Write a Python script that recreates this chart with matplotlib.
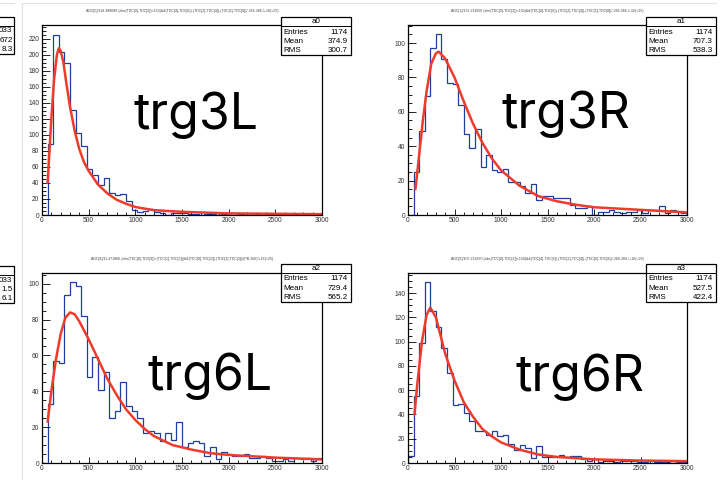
import numpy as np
import matplotlib
matplotlib.use("Agg")
import matplotlib.pyplot as plt
from matplotlib.patches import Rectangle
from matplotlib.ticker import MultipleLocator

W, H = 727, 480

# bin edges: 50 bins of width 60 between 0 and 3000
EDGES = np.linspace(0, 3000, 51)

# ---- histogram contents ----
trg3L = [0, 89, 225, 203, 190, 131, 102, 86, 57, 50,
         37, 46, 27, 25, 26, 17, 6, 4, 5, 7,
         4, 3, 0, 2, 3, 2, 1, 1, 0, 1,
         1, 0, 1, 0, 0, 1, 0, 0, 1, 0,
         0, 0, 1, 0, 0, 0, 0, 1, 0, 0]
trg3R = [0, 25, 49, 69, 97, 105, 91, 77, 76, 64,
         47, 39, 50, 28, 35, 26, 25, 27, 19, 19,
         17, 13, 18, 9, 11, 11, 10, 10, 10, 6,
         4, 4, 5, 0, 2, 2, 3, 2, 1, 2,
         2, 3, 1, 3, 3, 5, 1, 3, 2, 1]
trg6L = [0, 33, 57, 56, 94, 101, 99, 82, 48, 59,
         41, 51, 25, 29, 45, 32, 29, 25, 17, 18,
         17, 12, 17, 13, 23, 9, 11, 12, 11, 4,
         9, 2, 6, 5, 4, 4, 5, 3, 3, 4,
         3, 1, 1, 2, 1, 3, 2, 3, 1, 3]
trg6R = [6, 55, 99, 149, 125, 112, 95, 74, 48, 49,
         41, 35, 26, 26, 23, 26, 22, 23, 16, 11,
         15, 12, 4, 14, 5, 5, 5, 7, 5, 6,
         6, 3, 2, 3, 1, 2, 2, 1, 2, 2,
         2, 1, 1, 0, 1, 1, 1, 0, 1, 1]

# ---- red fit curves, sampled by eye ----
fit3L_x = [60, 80, 100, 130, 160, 180, 200, 230, 260, 300, 350, 400, 450, 500,
           600, 700, 800, 900, 1000, 1200, 1500, 2000, 2500, 3000]
fit3L_y = [40, 80, 120, 170, 200, 208, 205, 190, 165, 135, 105, 82, 66, 55,
           38, 27, 19, 14, 10, 6, 4, 2, 1.5, 1]
fit3R_x = [80, 120, 160, 200, 250, 300, 330, 400, 500, 600, 700, 800, 900, 1000,
           1200, 1400, 1600, 1800, 2000, 2500, 3000]
fit3R_y = [15, 35, 55, 72, 88, 94, 95, 91, 80, 66, 53, 42, 33, 26,
           17, 11, 8, 6, 4.5, 3, 1.5]
fit6L_x = [60, 100, 150, 200, 250, 300, 350, 400, 500, 600, 700, 800, 900, 1000,
           1100, 1200, 1400, 1600, 1800, 2000, 2500, 3000]
fit6L_y = [23, 40, 58, 72, 81, 84, 83, 79, 69, 58, 47, 38, 30, 24,
           19, 15, 10, 7.5, 5.5, 4.5, 3, 2]
fit6R_x = [70, 100, 150, 200, 240, 300, 350, 400, 500, 600, 700, 800, 900, 1000,
           1200, 1400, 1600, 2000, 2500, 3000]
fit6R_y = [40, 65, 100, 122, 128, 120, 105, 90, 68, 50, 38, 28, 22, 17,
           11, 7, 5, 3, 2, 1.5]

names = ["a0", "a1", "a2", "a3"]
labels = ["trg3L", "trg3R", "trg6L", "trg6R"]
means = ["374.9", "707.3", "729.4", "527.5"]
rmss = ["300.7", "538.3", "565.2", "422.4"]
entries = "1174"
ymaxes = [237, 110.5, 106, 156.5]
ytop_ticks = [220, 100, 100, 140]

titles = [
    "ADC[0]/118.388680 (abs(TDC[0]-TDC[2])<150)&&(TDC[4]-TDC[6])-(TDC[2]-TDC[4])-(TDC[6]-TDC[8])/-266-266,/+16(<25)",
    "ADC[1]/131.211650 (abs(TDC[0]-TDC[2])<150)&&(TDC[4]-TDC[6])-(TDC[2]-TDC[4])-(TDC[6]-TDC[8])/-266-266,/+16(<25)",
    "ADC[8]/11.471866 (abs(TDC[8]-TDC[9])<(TDC[1]-TDC[3]))&&(TDC[8]-TDC[9])-(TDC[3]-TDC[3])/(PB-266)/+16(<25)",
    "ADC[9]/107.212660 (abs(TDC[0]-TDC[2])<150)&&(TDC[4]-TDC[6])-(TDC[2]-TDC[4])-(TDC[6]-TDC[8])/-266-266,/+16(<25)",
]

hists = [trg3L, trg3R, trg6L, trg6R]
fits = [(fit3L_x, fit3L_y), (fit3R_x, fit3R_y), (fit6L_x, fit6L_y), (fit6R_x, fit6R_y)]

# panel frames in pixels: left, right, top, bottom
frames = [(42, 322, 25, 215), (408, 687, 25, 215),
          (42, 322, 273, 463), (408, 687, 273, 463)]
stat_boxes = [(281, 17), (646, 17), (281, 264), (646, 264)]
label_pos = [(134, 129), (502, 128), (147, 390), (516, 391)]

BLUE = "#1f3f9f"
RED = "#ee3b2b"
TICKFONT = "Liberation Sans"

fig = plt.figure(figsize=(W / 100, H / 100), dpi=100)
fig.patch.set_facecolor("white")

for i in range(4):
    l, r, t, b = frames[i]
    ax = fig.add_axes([l / W, 1 - b / H, (r - l) / W, (b - t) / H])
    ax.stairs(hists[i], EDGES, color=BLUE, lw=0.9, baseline=0)
    ax.plot(fits[i][0], fits[i][1], color=RED, lw=1.8, solid_capstyle="round")
    ax.set_xlim(0, 3000)
    ax.set_ylim(0, ymaxes[i])
    ax.set_xticks(np.arange(0, 3001, 500))
    ax.set_yticks(np.arange(0, ytop_ticks[i] + 1, 20))
    ax.xaxis.set_minor_locator(MultipleLocator(100))
    ax.yaxis.set_minor_locator(MultipleLocator(5))
    ax.tick_params(axis="both", which="both", direction="in", top=False, right=False,
                   width=0.6, color="black", labelsize=4.8, labelcolor="#333333")
    ax.tick_params(axis="y", which="major", length=6, pad=2)
    ax.tick_params(axis="y", which="minor", length=3)
    ax.tick_params(axis="x", which="major", length=4, pad=1.5)
    ax.tick_params(axis="x", which="minor", length=2)
    for lab in ax.get_xticklabels() + ax.get_yticklabels():
        lab.set_fontfamily(TICKFONT)
    for s in ax.spines.values():
        s.set_linewidth(0.9)
        s.set_color("black")

# overlay in pixel coordinates for boxes, titles and labels
ov = fig.add_axes([0, 0, 1, 1], zorder=10)
ov.set_xlim(0, W)
ov.set_ylim(H, 0)
ov.axis("off")
ov.patch.set_alpha(0)

# screenshot separators
ov.plot([0, 14], [3, 3], color="#e2e2e2", lw=0.8)
ov.plot([22, 716], [3, 3], color="#e2e2e2", lw=0.8)
ov.plot([22, 22], [3, H], color="#e2e2e2", lw=0.8)

for i in range(4):
    l, r, t, b = frames[i]
    cx = (l + r) / 2
    ov.text(cx, t - 14, titles[i], fontsize=2.6, ha="center", va="center",
            color="#444444", family=TICKFONT)
    bx, by = stat_boxes[i]
    ov.add_patch(Rectangle((bx, by), 70, 38, facecolor="white", edgecolor="black", lw=0.9))
    ov.plot([bx, bx + 70], [by + 9, by + 9], color="black", lw=0.7)
    ov.text(bx + 35, by + 4.5, names[i], fontsize=5.8, ha="center", va="center", family=TICKFONT)
    rows = [("Entries", entries), ("Mean", means[i]), ("RMS", rmss[i])]
    for k, (a, v) in enumerate(rows):
        yy = by + 15 + 9.3 * k
        ov.text(bx + 2, yy, a, fontsize=5.8, ha="left", va="center", family=TICKFONT)
        ov.text(bx + 67, yy, v, fontsize=5.8, ha="right", va="center", family=TICKFONT)
    lx, ly = label_pos[i]
    ov.text(lx, ly, labels[i], fontsize=36, ha="left", va="baseline",
            family=["Inter", "DejaVu Sans"], color="black")

# clipped stats boxes of the neighbouring canvas on the far left
for top, vals in [(17, ["033", "672", "8.3"]), (266, ["033", "1.5", "6.1"])]:
    ov.add_patch(Rectangle((-6, top), 20, 37, facecolor="white", edgecolor="black", lw=0.9))
    ov.plot([-6, 14], [top + 9, top + 9], color="black", lw=0.7)
    for k, v in enumerate(vals):
        ov.text(12.5, top + 14 + 9.3 * k, v, fontsize=5.8, ha="right", va="center",
                family=TICKFONT)

fig.savefig("out.png", dpi=100)
